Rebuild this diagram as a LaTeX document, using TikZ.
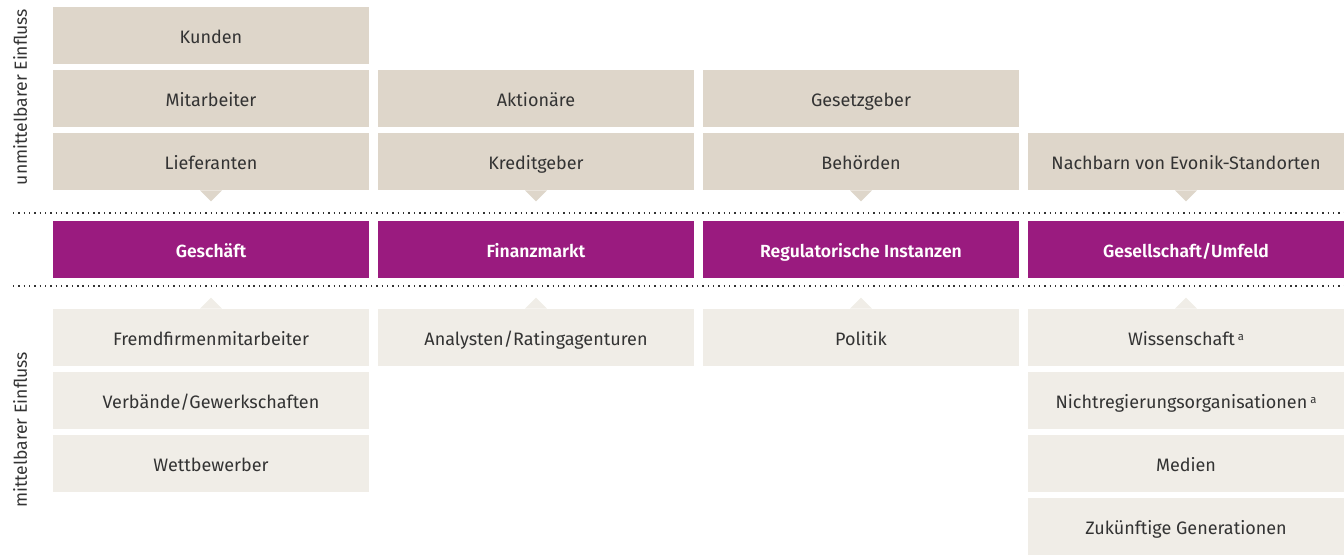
\documentclass[tikz,border=0pt]{standalone}
\usepackage{fontspec}
\setmainfont{Fira Sans}[BoldFont={Fira Sans SemiBold}]

\definecolor{evpurple}{HTML}{9A1B7F}
\definecolor{directbg}{HTML}{DED6CA}
\definecolor{indirectbg}{HTML}{F0EDE7}
\definecolor{labelgray}{HTML}{333333}

\tikzset{
  group/.style={fill=#1, text=labelgray, inner sep=0pt,
    minimum width=7.9cm, minimum height=1.425cm,
    text height=13pt, text depth=2pt,
    font=\fontsize{12.8}{15}\selectfont},
  group/.default=directbg,
  sector/.style={group=evpurple, text=white, font=\fontsize{12.5}{15}\selectfont\bfseries},
  divider/.style={line width=1.1pt, labelgray, dash pattern=on 1pt off 2.8pt},
}

\newcommand{\fnmark}{\,\raisebox{0.55ex}{\fontsize{8}{9}\selectfont a}}

\begin{document}
\begin{tikzpicture}[x=0.025cm,y=-0.025cm]
\useasboundingbox (0,0) rectangle (1344,555);

% stakeholders with direct influence
\node[group] (kunden) at (211,35.5) {Kunden};
\node[group] (mitarb) at (211,98.5) {Mitarbeiter};
\node[group] (liefer) at (211,161.5) {Lieferanten};
\node[group] (aktion) at (536,98.5) {Aktionäre};
\node[group] (kredit) at (536,161.5) {Kreditgeber};
\node[group] (gesetz) at (861,98.5) {Gesetzgeber};
\node[group] (behoer) at (861,161.5) {Behörden};
\node[group] (nachbar) at (1186,161.5) {Nachbarn von Evonik-Standorten};

% the four sectors
\node[sector] (geschaeft) at (211,249.5) {Geschäft};
\node[sector] (finanz) at (536,249.5) {Finanzmarkt};
\node[sector] (regul) at (861,249.5) {Regulatorische Instanzen};
\node[sector] (gesell) at (1186,249.5) {Gesellschaft/Umfeld};

% stakeholders with indirect influence
\node[group=indirectbg] (fremd) at (211,337.5) {Fremdfirmenmitarbeiter};
\node[group=indirectbg] (verband) at (211,400.5) {Verbände/Gewerkschaften};
\node[group=indirectbg] (wettb) at (211,463.5) {Wettbewerber};
\node[group=indirectbg] (analyst) at (536,337.5) {Analysten/Ratingagenturen};
\node[group=indirectbg] (politik) at (861,337.5) {Politik};
\node[group=indirectbg] (wissen) at (1186,337.5) {Wissenschaft\fnmark};
\node[group=indirectbg] (ngo) at (1186,400.5) {Nichtregierungsorganisationen\fnmark};
\node[group=indirectbg] (medien) at (1186,463.5) {Medien};
\node[group=indirectbg] (zukunft) at (1186,526.5) {Zukünftige Generationen};

% notches pointing at the sectors
\fill[directbg] (liefer.south) +(-11,0) -- +(0,11) -- +(11,0) -- cycle;
\fill[directbg] (kredit.south) +(-11,0) -- +(0,11) -- +(11,0) -- cycle;
\fill[directbg] (behoer.south) +(-11,0) -- +(0,11) -- +(11,0) -- cycle;
\fill[directbg] (nachbar.south) +(-11,0) -- +(0,11) -- +(11,0) -- cycle;
\fill[indirectbg] (fremd.north) +(-11,0) -- +(0,-11) -- +(11,0) -- cycle;
\fill[indirectbg] (analyst.north) +(-11,0) -- +(0,-11) -- +(11,0) -- cycle;
\fill[indirectbg] (politik.north) +(-11,0) -- +(0,-11) -- +(11,0) -- cycle;
\fill[indirectbg] (wissen.north) +(-11,0) -- +(0,-11) -- +(11,0) -- cycle;

% dotted dividers
\coordinate (topL) at (13,213);
\coordinate (topR) at (1344,213);
\coordinate (botL) at (13,286);
\coordinate (botR) at (1344,286);
\draw[divider] (topL) -- (topR);
\draw[divider] (botL) -- (botR);

% side labels
\node[rotate=90, text=labelgray, font=\fontsize{12.5}{14}\selectfont] (direct) at (20,97) {unmittelbarer Einfluss};
\node[rotate=90, text=labelgray, font=\fontsize{12.5}{14}\selectfont] (indirect) at (20,430) {mittelbarer Einfluss};
\end{tikzpicture}
\end{document}
